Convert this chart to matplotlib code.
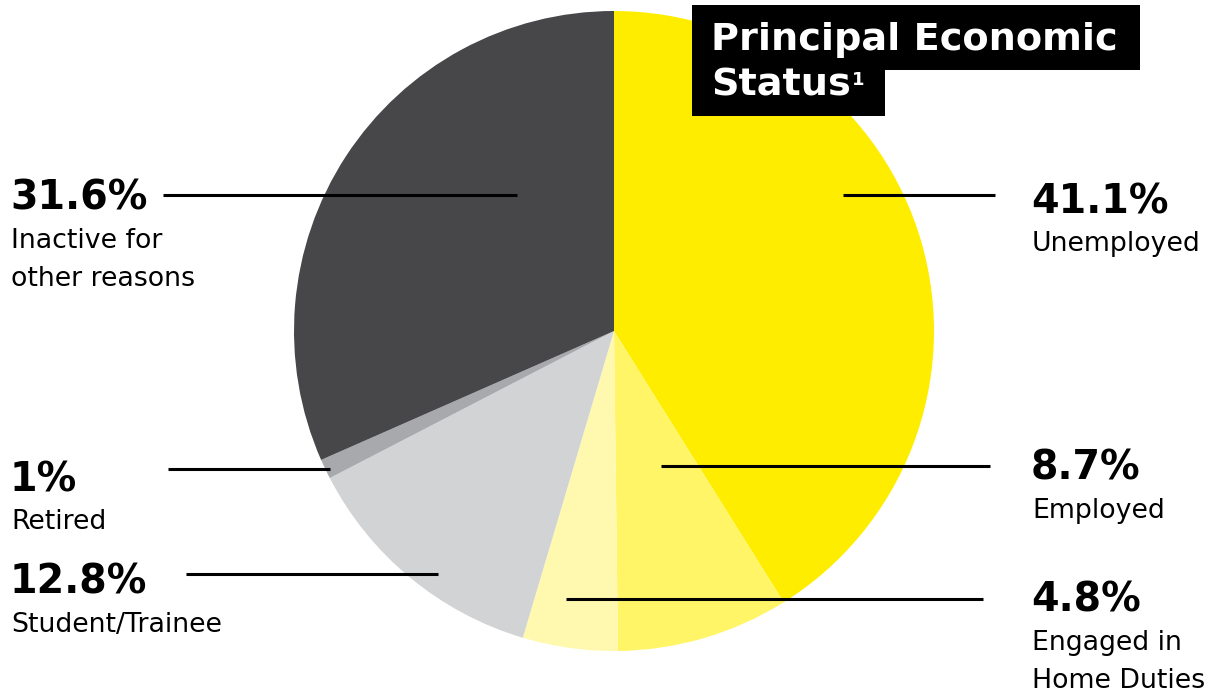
import matplotlib
matplotlib.use("Agg")
import matplotlib.pyplot as plt
from matplotlib.patches import Rectangle

categories = ["Unemployed", "Employed", "Engaged in\nHome Duties", "Student/Trainee", "Retired", "Inactive for\nother reasons"]
values = [41.1, 8.7, 4.8, 12.8, 1.0, 31.6]
pct_labels = ["41.1%", "8.7%", "4.8%", "12.8%", "1%", "31.6%"]
colors = ["#FFED00", "#FFF566", "#FFF9B0", "#D1D3D4", "#A7A9AC", "#47474A"]

W, H = 1220, 693
fig = plt.figure(figsize=(W / 100, H / 100), dpi=100)
ax = fig.add_axes([0, 0, 1, 1])

def Y(y):
    return H - y

cx, cy, r = 614, 331, 320
ax.pie(values, colors=colors, startangle=90, counterclock=False,
       center=(cx, Y(cy)), radius=r, frame=True,
       wedgeprops=dict(linewidth=0))
ax.set_xlim(0, W)
ax.set_ylim(0, H)
ax.set_aspect("equal")
ax.axis("off")

FONT = "DejaVu Sans"
pct_size = 28.5
lab_size = 19.3

layout = {
    0: dict(tx=1031, ty=213, lx0=843, lx1=995, ly=195),
    1: dict(tx=1031, ty=480, lx0=661, lx1=990, ly=466),
    2: dict(tx=1031, ty=612, lx0=566, lx1=983, ly=599),
    3: dict(tx=10, ty=594, lx0=186, lx1=438, ly=574),
    4: dict(tx=10, ty=491, lx0=168, lx1=330, ly=469),
    5: dict(tx=10, ty=210, lx0=163, lx1=517, ly=195),
}

for i, (cat, pl) in enumerate(zip(categories, pct_labels)):
    L = layout[i]
    ax.plot([L["lx0"], L["lx1"]], [Y(L["ly"]), Y(L["ly"])], color="black", lw=2.2,
            solid_capstyle="butt", zorder=5)
    ax.text(L["tx"], Y(L["ty"]), pl, fontsize=pct_size, fontweight="bold",
            family=FONT, color="black", ha="left", va="baseline")
    for j, line in enumerate(cat.split("\n")):
        ax.text(L["tx"] + 1, Y(L["ty"] + 38 + 37.5 * j), line, fontsize=lab_size,
                family=FONT, color="black", ha="left", va="baseline")

# title box
ax.add_patch(Rectangle((692, Y(70)), 1140 - 692, 65, facecolor="black", edgecolor="none", zorder=6))
ax.add_patch(Rectangle((692, Y(116)), 885 - 692, 47, facecolor="black", edgecolor="none", zorder=6))
ax.text(711, Y(50), "Principal Economic", fontsize=27.5, fontweight="bold", family=FONT,
        color="white", ha="left", va="baseline", zorder=7)
t = ax.text(711, Y(96), "Status", fontsize=27.5, fontweight="bold", family=FONT,
            color="white", ha="left", va="baseline", zorder=7)
fig.canvas.draw()
bb = t.get_window_extent(renderer=fig.canvas.get_renderer())
x_end = ax.transData.inverted().transform((bb.x1, bb.y0))[0]
ax.text(x_end + 1, Y(85), "1", fontsize=13, fontweight="bold", family=FONT,
        color="white", ha="left", va="baseline", zorder=7)

fig.savefig("out.png", dpi=100, facecolor="white")
